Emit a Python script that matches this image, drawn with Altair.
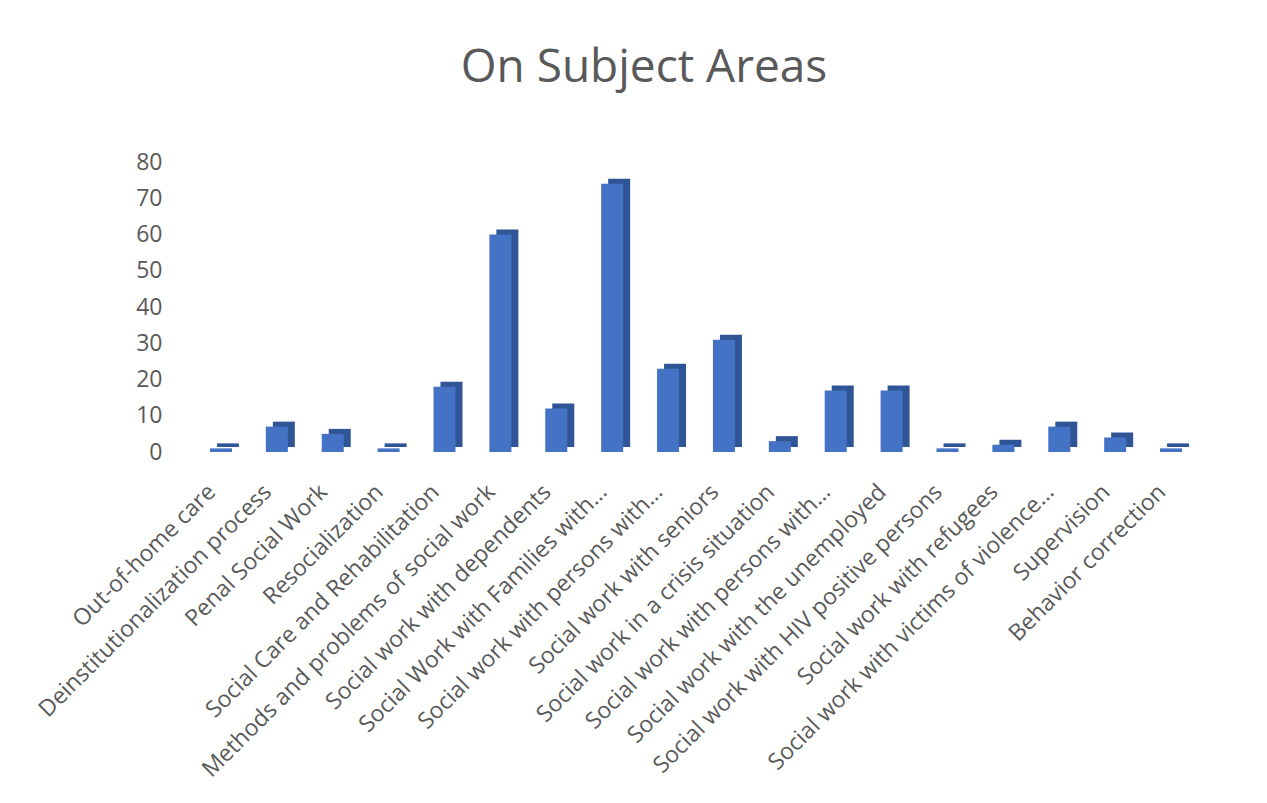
import json
import altair as alt
import pandas as pd

categories = [
    "Out-of-home care",
    "Deinstitutionalization process",
    "Penal Social Work",
    "Resocialization",
    "Social Care and Rehabilitation",
    "Methods and problems of social work",
    "Social work with dependents",
    "Social Work with Families with…",
    "Social work with persons with…",
    "Social work with seniors",
    "Social work in a crisis situation",
    "Social work with persons with…",
    "Social work with the unemployed",
    "Social work with HIV positive persons",
    "Social work with refugees",
    "Social work with victims of violence…",
    "Supervision",
    "Behavior correction",
]
values = [1, 7, 5, 1, 18, 60, 12, 74, 23, 31, 3, 17, 17, 1, 2, 7, 4, 1]
y_ticks = [0, 10, 20, 30, 40, 50, 60, 70, 80]

df = pd.DataFrame({"idx": list(range(len(categories))), "cat": categories, "val": values})

label_expr = json.dumps(categories, ensure_ascii=False) + "[datum.value]"

FONT = "Open Sans"
GREY = "#595959"

base = alt.Chart(df).encode(
    x=alt.X(
        "idx:O",
        sort=None,
        title=None,
        scale=alt.Scale(paddingInner=0.6, paddingOuter=0.3),
        axis=alt.Axis(
            labelExpr=label_expr,
            labelAngle=-45,
            labelAlign="right",
            labelBaseline="middle",
            labelFont=FONT,
            labelFontSize=23,
            labelColor=GREY,
            labelPadding=36,
            labelOffset=-9,
            labelLimit=600,
            domain=False,
            ticks=False,
            tickSize=0,
            grid=False,
        ),
    ),
    y=alt.Y(
        "val:Q",
        title=None,
        scale=alt.Scale(domain=[0, 80], nice=False),
        axis=alt.Axis(
            values=y_ticks,
            labelFont=FONT,
            labelFontSize=23,
            labelColor=GREY,
            labelPadding=31,
            domain=False,
            ticks=False,
            tickSize=0,
            grid=False,
        ),
    ),
)

side = base.mark_bar(size=22, color="#2F5597", xOffset=7, yOffset=-5)
front = base.mark_bar(size=22, color="#4472C4")

chart = (
    alt.layer(side, front)
    .properties(
        width=1006,
        height=290,
        autosize=alt.AutoSizeParams(type="none"),
        padding={"left": 185, "top": 154, "right": 60, "bottom": 340},
        title=alt.TitleParams(
            "On Subject Areas",
            font=FONT,
            fontSize=46,
            fontWeight="normal",
            color=GREY,
            anchor="middle",
            dx=-52,
            offset=59,
        ),
    )
    .configure(background="white", view=alt.ViewConfig(stroke=None, strokeWidth=0))
)

chart.save("out.html", embed_options={"renderer": "svg", "actions": False})
